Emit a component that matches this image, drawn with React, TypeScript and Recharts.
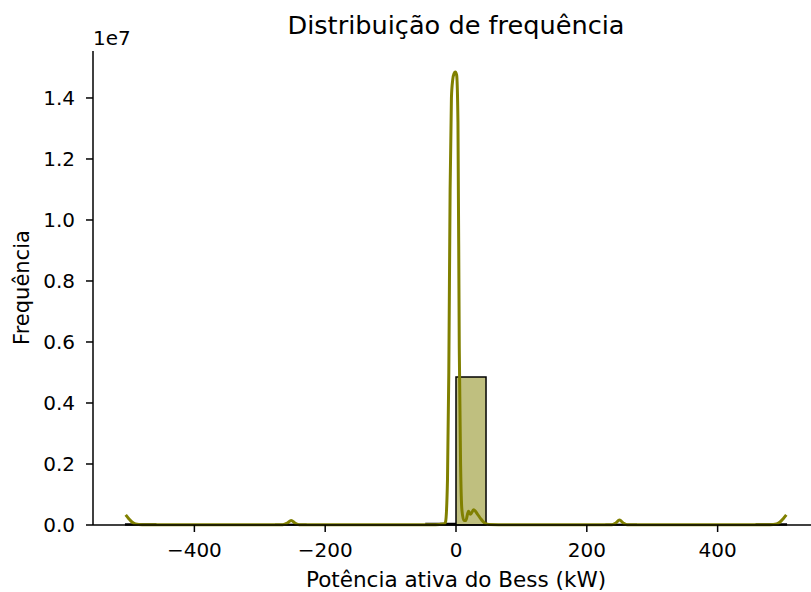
import { ComposedChart, Line, XAxis, YAxis, ReferenceArea } from 'recharts';

// KDE curve (x in kW, y in counts)
const kdeX = [
  -505, -500, -495, -490, -480, -400, -300, -265, -258, -252, -246, -240, -200, -100,
  -50, -40, -25, -18, -16, -13, -11, -9, -7, -5, -3, -1, 1, 3, 5, 7, 9, 12, 15,
  19, 22, 27, 33, 38, 43, 50, 80, 150, 200, 238, 244, 250, 256, 262, 300, 400,
  480, 490, 495, 500, 505,
];
const kdeY = [
  330000, 200000, 90000, 30000, 8000, 5000, 5000, 6000, 60000, 150000, 60000, 6000, 5000, 5000,
  6000, 8000, 20000, 40000, 100000, 1500000, 5000000, 11000000, 14000000, 14600000, 14800000, 14850000, 14750000, 13200000, 5800000, 2000000, 500000, 150000, 150000,
  450000, 350000, 500000, 350000, 200000, 80000, 20000, 5000, 5000, 5000, 6000, 60000, 160000, 60000, 6000, 5000, 5000,
  8000, 30000, 90000, 200000, 330000,
];

// histogram bins
const binStart = [-505, -275.5, -45.9, 0, 229.5, 459.1];
const binEnd = [-459.1, -229.5, 0, 45.9, 275.5, 505];
const binCount = [30000, 20000, 50000, 4850000, 20000, 30000];

const xTicks = [-400, -200, 0, 200, 400];
const yTicks = [0, 2000000, 4000000, 6000000, 8000000, 10000000, 12000000, 14000000];

const kdeData = kdeX.map((x, i) => ({ x, y: kdeY[i] }));

const FONT = 'DejaVu Sans';
const X_DOMAIN: [number, number] = [-555, 555];
const Y_DOMAIN: [number, number] = [0, 15540000];

export default function App() {
  const tickStyle = { fill: '#000', fontSize: 20, fontFamily: FONT };
  const axisLine = { stroke: '#000', strokeWidth: 1.5 };

  return (
    <div
      style={{
        position: 'absolute',
        left: 0,
        top: 0,
        width: 811,
        height: 592,
        overflow: 'hidden',
        background: '#fff',
        fontFamily: FONT,
        color: '#000',
      }}
    >
      <ComposedChart
        width={830}
        height={592}
        data={kdeData}
        margin={{ top: 51, right: 11, bottom: 0, left: 0 }}
      >
        <XAxis
          dataKey="x"
          type="number"
          domain={X_DOMAIN}
          ticks={xTicks}
          height={67}
          tickSize={7}
          tickMargin={11}
          tick={tickStyle}
          axisLine={axisLine}
          tickLine={axisLine}
          tickFormatter={(v: number) => (v < 0 ? '\u2212' + Math.abs(v) : String(v))}
        />
        <XAxis
          xAxisId="top"
          orientation="top"
          dataKey="x"
          type="number"
          domain={X_DOMAIN}
          height={0}
          tick={false}
          tickLine={false}
          axisLine={axisLine}
        />
        <YAxis
          type="number"
          domain={Y_DOMAIN}
          ticks={yTicks}
          width={93}
          tickSize={7}
          tickMargin={11}
          tick={tickStyle}
          axisLine={axisLine}
          tickLine={axisLine}
          tickFormatter={(v: number) => (v / 1e7).toFixed(1)}
        />
        <YAxis
          yAxisId="r"
          orientation="right"
          type="number"
          domain={Y_DOMAIN}
          width={0}
          tick={false}
          tickLine={false}
          axisLine={axisLine}
        />
        {binStart.map((s, i) => (
          <ReferenceArea
            key={i}
            x1={s}
            x2={binEnd[i]}
            y1={0}
            y2={binCount[i]}
            fill="#bfbf7f"
            fillOpacity={1}
            stroke="#000"
            strokeWidth={1.5}
          />
        ))}
        <Line
          dataKey="y"
          type="monotone"
          stroke="#808000"
          strokeWidth={3}
          dot={false}
          isAnimationActive={false}
        />
      </ComposedChart>

      <div
        style={{
          position: 'absolute',
          left: 156,
          width: 600,
          top: 13,
          textAlign: 'center',
          fontSize: 25.6,
          lineHeight: '25px',
          whiteSpace: 'nowrap',
        }}
      >
        Distribuição de frequência
      </div>
      <div style={{ position: 'absolute', left: 93, top: 28, fontSize: 20, lineHeight: '20px' }}>1e7</div>
      <div
        style={{
          position: 'absolute',
          left: 156,
          width: 600,
          top: 569,
          textAlign: 'center',
          fontSize: 21.5,
          lineHeight: '21px',
          whiteSpace: 'nowrap',
        }}
      >
        Potência ativa do Bess (kW)
      </div>
      <div
        style={{
          position: 'absolute',
          left: 22 - 100,
          top: 288 - 11,
          width: 200,
          textAlign: 'center',
          fontSize: 21,
          lineHeight: '21px',
          whiteSpace: 'nowrap',
          transform: 'rotate(-90deg)',
        }}
      >
        Frequência
      </div>
    </div>
  );
}
